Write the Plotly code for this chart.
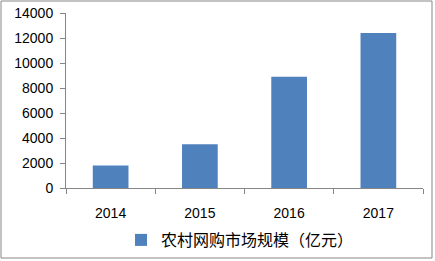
import plotly.graph_objects as go

years = ["2014", "2015", "2016", "2017"]
values = [1800, 3500, 8900, 12400]
y_ticks = [0, 2000, 4000, 6000, 8000, 10000, 12000, 14000]
series_name = "农村网购市场规模（亿元）"

W, H = 435, 261
L, R, T, B = 66, 12, 13, 73
pw, ph = W - L - R, H - T - B

def px_x(x):
    return (x - L) / pw

def px_y(y):
    return (H - B - y) / ph

fig = go.Figure()
fig.add_trace(go.Bar(x=years, y=values, name=series_name,
                     marker=dict(color="#4F81BD", line=dict(width=0)),
                     showlegend=True))

fig.update_layout(
    width=W, height=H,
    margin=dict(l=L, r=R, t=T, b=B, autoexpand=False),
    paper_bgcolor="white", plot_bgcolor="white",
    bargap=0.6,
    showlegend=True,
    legend=dict(orientation="h", xref="container", x=121 / W, xanchor="left",
                yref="container", y=1 - 240 / H, yanchor="middle",
                font=dict(family="Noto Sans CJK SC", size=16, color="#000"),
                itemwidth=30),
    xaxis=dict(type="category", showline=True, linecolor="#868686", linewidth=1,
               ticks="outside", tickson="boundaries", ticklen=5, tickcolor="#868686",
               tickfont=dict(family="Liberation Sans", size=14, color="#000"),
               showgrid=False, ticklabelstandoff=12, automargin=False),
    yaxis=dict(range=[0, 14000], tickvals=y_ticks, ticktext=[str(v) for v in y_ticks],
               showline=True, linecolor="#868686",
               linewidth=1, ticks="outside", ticklen=5, tickcolor="#868686",
               tickfont=dict(family="Liberation Sans", size=14, color="#000"),
               showgrid=False, zeroline=False, ticklabelstandoff=4, automargin=False),
    shapes=[dict(type="rect", xref="paper", yref="paper",
                 x0=px_x(1), x1=px_x(432), y0=px_y(258), y1=px_y(1),
                 line=dict(color="#868686", width=1))],
)

fig.write_html("out.html")
